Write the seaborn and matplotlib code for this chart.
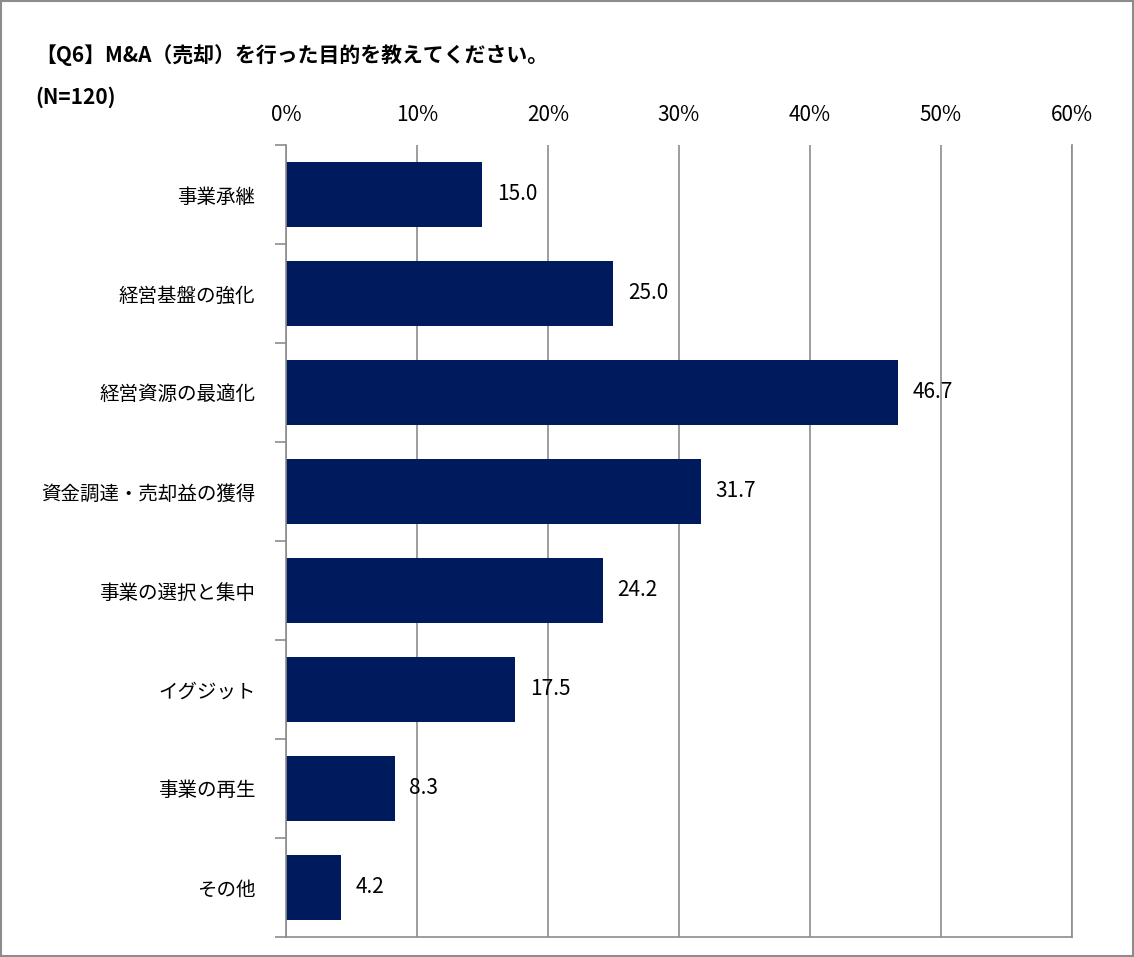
import matplotlib
matplotlib.use("Agg")
import matplotlib.pyplot as plt
import seaborn as sns
import pandas as pd
from matplotlib.patches import Rectangle

plt.rcParams["font.family"] = ["Noto Sans CJK JP", "DejaVu Sans"]

categories = ["事業承継", "経営基盤の強化", "経営資源の最適化", "資金調達・売却益の獲得",
              "事業の選択と集中", "イグジット", "事業の再生", "その他"]
values = [15.0, 25.0, 46.7, 31.7, 24.2, 17.5, 8.3, 4.2]
tick_vals = [0, 10, 20, 30, 40, 50, 60]

df = pd.DataFrame({"cat": categories, "val": values})

fig = plt.figure(figsize=(11.34, 9.57), dpi=100)
ax = fig.add_axes([0.2522, 0.0209, 0.6931, 0.8276])
sns.barplot(data=df, x="val", y="cat", color="#001A5E", width=0.66, ax=ax, saturation=1)

ax.set_xlim(0, 60)
ax.set_ylim(len(categories) - 0.5, -0.5)
ax.set_xticks(tick_vals)
ax.set_xticklabels([f"{v}%" for v in tick_vals], fontsize=15)
ax.xaxis.tick_top()
ax.tick_params(axis="x", length=0, pad=14)
ax.grid(axis="x", color="#8C8C8C", linewidth=1.2)
ax.set_axisbelow(True)
ax.set_xlabel("")
ax.set_ylabel("")
ax.tick_params(axis="y", length=0, labelsize=14, pad=22)
ax.set_yticks(range(len(categories)), minor=False)
ax.set_yticks([i - 0.5 for i in range(len(categories) + 1)], minor=True)
ax.tick_params(axis="y", which="minor", length=8, color="#8C8C8C", width=1.2)
for s in ["top"]:
    ax.spines[s].set_visible(False)
for s in ["left", "right", "bottom"]:
    ax.spines[s].set_color("#8C8C8C")
    ax.spines[s].set_linewidth(1.2)

for i, v in enumerate(values):
    ax.text(v + 1.1, i, f"{v:.1f}", va="center", ha="left", fontsize=15, color="black")

fig.text(35 / 1134, 1 - 55 / 957, "【Q6】M&A（売却）を行った目的を教えてください。",
         fontsize=15, fontweight="bold", va="center", ha="left")
fig.text(35 / 1134, 1 - 97 / 957, "(N=120)", fontsize=15, fontweight="bold",
         va="center", ha="left")

fig.patches.append(Rectangle((0.001, 0.001), 0.998, 0.998, transform=fig.transFigure,
                             fill=False, edgecolor="#8C8C8C", linewidth=1.5))

fig.savefig("out.png", dpi=100)
